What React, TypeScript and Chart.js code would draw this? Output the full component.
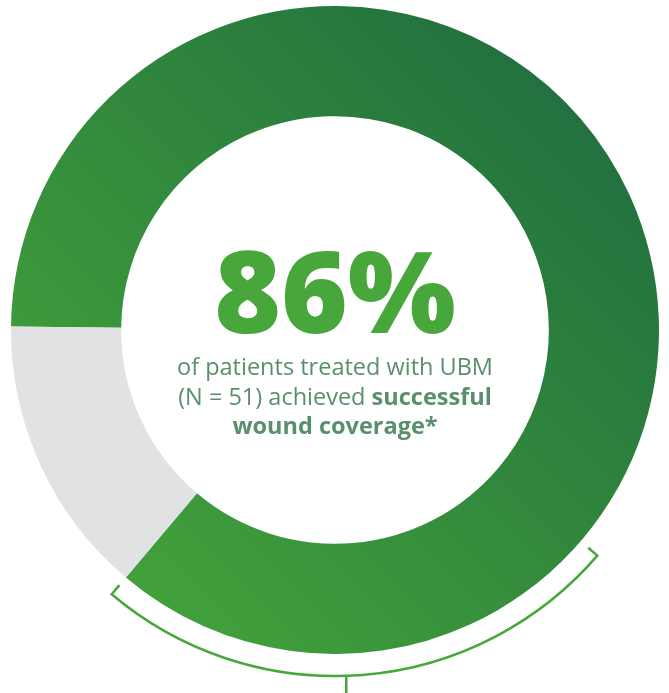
import React, { useEffect, useRef } from "react";
import { Chart, registerables } from "chart.js";

Chart.register(...registerables);

// ---- data ----
const categories = ["Successful wound coverage", "Not achieved"];
const values = [86, 14];
const headline = "86%";
const captionLine1 = [{ text: "of patients treated with UBM", bold: false }];
const captionLine2 = [
  { text: "(N = 51) achieved ", bold: false },
  { text: "successful", bold: true },
];
const captionLine3 = [{ text: "wound coverage*", bold: true }];

// ---- style ----
const GREEN_LIGHT = "#45a63a";
const GREEN_DARK = "#1f6c3f";
const GREY = "#e1e2e4";
const HEADLINE_COLOR = "#47a73a";
const CAPTION_COLOR = "#5a8f6d";
const BRACKET_COLOR = "#47a73a";
const FONT = "'Open Sans', 'DejaVu Sans', sans-serif";
const CAPTION_SIZE = 23.5;

const deg = Math.PI / 180;

const overlayPlugin = {
  id: "overlay",
  afterDatasetsDraw(chart: any) {
    const ctx = chart.ctx as CanvasRenderingContext2D;
    const arc = chart.getDatasetMeta(0).data[0] as any;
    if (!arc) return;
    const { x: cx, y: cy, outerRadius, endAngle } = arc.getProps(
      ["x", "y", "outerRadius", "endAngle"],
      true
    );

    // bracket below the green segment
    const r = outerRadius + 22;
    const s = endAngle % (2 * Math.PI);
    const e = s - 89.5 * deg;
    const tick = 12;
    ctx.save();
    ctx.strokeStyle = BRACKET_COLOR;
    ctx.lineWidth = 2.5;
    ctx.lineJoin = "miter";
    ctx.beginPath();
    ctx.moveTo(cx + (r - tick) * Math.cos(s), cy + (r - tick) * Math.sin(s));
    ctx.lineTo(cx + r * Math.cos(s), cy + r * Math.sin(s));
    ctx.arc(cx, cy, r, s, e, true);
    ctx.lineTo(cx + (r - tick) * Math.cos(e), cy + (r - tick) * Math.sin(e));
    ctx.stroke();
    const m = s - 0.47 * (s - e);
    const mx = cx + r * Math.cos(m);
    const my = cy + r * Math.sin(m);
    ctx.beginPath();
    ctx.moveTo(mx, my);
    ctx.lineTo(mx, my + 30);
    ctx.stroke();

    // center text
    ctx.textBaseline = "alphabetic";
    ctx.textAlign = "center";
    ctx.fillStyle = HEADLINE_COLOR;
    ctx.font = `800 114px ${FONT}`;
    ctx.fillText(headline, cx, cy + 3);

    const lines = [captionLine1, captionLine2, captionLine3];
    const baselines = [cy + 45, cy + 75, cy + 104];
    ctx.fillStyle = CAPTION_COLOR;
    ctx.textAlign = "left";
    lines.forEach((parts, i) => {
      const widths = parts.map((p) => {
        ctx.font = `${p.bold ? 700 : 400} ${CAPTION_SIZE}px ${FONT}`;
        return ctx.measureText(p.text).width;
      });
      const total = widths.reduce((a, b) => a + b, 0);
      let x = cx - total / 2;
      parts.forEach((p, j) => {
        ctx.font = `${p.bold ? 700 : 400} ${CAPTION_SIZE}px ${FONT}`;
        ctx.fillText(p.text, x, baselines[i]);
        x += widths[j];
      });
    });
    ctx.restore();
  },
};

export default function App() {
  const canvasRef = useRef<HTMLCanvasElement | null>(null);

  useEffect(() => {
    const canvas = canvasRef.current;
    if (!canvas) return;
    const chart = new Chart(canvas, {
      type: "doughnut",
      data: {
        labels: categories,
        datasets: [
          {
            data: values,
            borderWidth: 0,
            backgroundColor: (c: any) => {
              if (c.dataIndex !== 0) return GREY;
              const { chart: ch } = c;
              const area = ch.chartArea;
              if (!area) return GREEN_LIGHT;
              const g = ch.ctx.createLinearGradient(
                area.left + area.width * 0.1,
                area.bottom - area.height * 0.05,
                area.right - area.width * 0.05,
                area.top + area.height * 0.1
              );
              g.addColorStop(0, GREEN_LIGHT);
              g.addColorStop(1, GREEN_DARK);
              return g;
            },
          },
        ],
      },
      options: {
        responsive: false,
        animation: false,
        cutout: "66%",
        rotation: 270.6,
        layout: { padding: { left: 11, top: 6, right: 10, bottom: 39 } },
        plugins: {
          legend: { display: false },
          tooltip: { enabled: false },
        },
      },
      plugins: [overlayPlugin],
    });
    return () => chart.destroy();
  }, []);

  return (
    <div style={{ position: "absolute", left: 0, top: 0, width: 669, height: 693 }}>
      <canvas ref={canvasRef} width={669} height={693} style={{ display: "block" }} />
    </div>
  );
}
